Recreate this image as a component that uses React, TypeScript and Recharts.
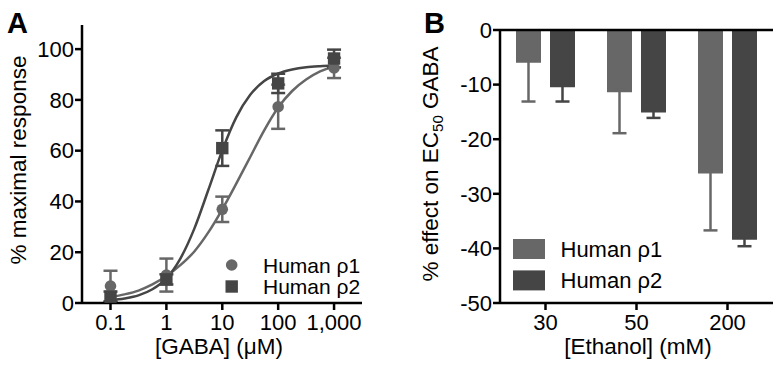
import React from 'react';
import {
  ComposedChart,
  BarChart,
  Bar,
  Line,
  Scatter,
  ErrorBar,
  XAxis,
  YAxis,
  ReferenceLine,
  Legend,
  Label,
} from 'recharts';

const FONT = '"Liberation Sans", Arial, Helvetica, sans-serif';
const C1 = '#676767';
const C2 = '#454545';

// ---------- Panel A data ----------
const seriesNames = ['Human ρ1', 'Human ρ2'];
const gabaLogConc = [-1, 0, 1, 2, 3];
const gabaTickLabels = ['0.1', '1', '10', '100', '1,000'];
const rho1Response = [6.7, 11.0, 36.9, 77.3, 92.6];
const rho1ResponseErr = [6.0, 6.5, 5.0, 8.7, 4.0];
const rho2Response = [2.5, 9.3, 61.0, 86.5, 96.3];
const rho2ResponseErr = [2.0, 2.0, 7.0, 3.8, 3.5];

const fitLogConc = [-1, -0.75, -0.5, -0.25, 0, 0.25, 0.5, 0.75, 1, 1.25, 1.5, 1.75, 2, 2.25, 2.5, 2.75, 3];
const rho1Fit = [2.3, 3.4, 4.9, 7.3, 10.6, 14.9, 20.3, 27.8, 36.9, 47.0, 57.5, 68.0, 77.0, 83.5, 88.0, 91.2, 93.2];
const rho2Fit = [1.1, 1.8, 3.0, 5.4, 9.7, 17.5, 29.3, 44.5, 60.1, 73.1, 82.0, 87.4, 90.4, 92.0, 92.9, 93.3, 93.5];

const responseTicks = [0, 20, 40, 60, 80, 100];

// ---------- Panel B data ----------
const ethanolConc = ['30', '50', '200'];
const rho1Effect = [-6.0, -11.4, -26.3];
const rho1EffectErr = [7.1, 7.5, 10.4];
const rho2Effect = [-10.5, -15.1, -38.4];
const rho2EffectErr = [2.6, 1.0, 1.2];
const effectTicks = [0, -10, -20, -30, -40, -50];
// upper arm of the one-sided error bars is kept hidden inside the bar
const hiddenUpperArm = 0.4;

// ---------- derived tables ----------
const rho1Points = gabaLogConc.map((x, i) => ({ x, y: rho1Response[i], e: rho1ResponseErr[i] }));
const rho2Points = gabaLogConc.map((x, i) => ({ x, y: rho2Response[i], e: rho2ResponseErr[i] }));
const rho1Curve = fitLogConc.map((x, i) => ({ x, y: rho1Fit[i] }));
const rho2Curve = fitLogConc.map((x, i) => ({ x, y: rho2Fit[i] }));
const ethanolData = ethanolConc.map((c, i) => ({
  c,
  r1: rho1Effect[i],
  r1e: [rho1EffectErr[i], hiddenUpperArm],
  r2: rho2Effect[i],
  r2e: [rho2EffectErr[i], hiddenUpperArm],
}));

const axisStroke = { stroke: '#000', strokeWidth: 2.5 };
const tickStyle = { fill: '#000', fontSize: 22, fontFamily: FONT };

const CircleShape = (p: any) => <circle cx={p.cx} cy={p.cy} r={5.8} fill={C1} />;
const SquareShape = (p: any) => <rect x={p.cx - 6.2} y={p.cy - 6.2} width={12.4} height={12.4} fill={C2} />;

const LegendA = () => (
  <svg width={160} height={46} style={{ display: 'block', overflow: 'visible' }}>
    <circle cx={16.7} cy={13} r={5.8} fill={C1} />
    <rect x={10.5} y={28.3} width={12.4} height={12.4} fill={C2} />
    <text x={48} y={13} dominantBaseline="central" fontSize={21} fontFamily={FONT} fill="#000">
      {seriesNames[0]}
    </text>
    <text x={48} y={34.5} dominantBaseline="central" fontSize={21} fontFamily={FONT} fill="#000">
      {seriesNames[1]}
    </text>
  </svg>
);

const LegendB = () => (
  <svg width={170} height={54} style={{ display: 'block', overflow: 'visible' }}>
    <rect x={0} y={0} width={32} height={20} fill={C1} />
    <rect x={0} y={31.4} width={32} height={20} fill={C2} />
    <text x={47.5} y={10} dominantBaseline="central" fontSize={22} fontFamily={FONT} fill="#000">
      {seriesNames[0]}
    </text>
    <text x={47.5} y={41.4} dominantBaseline="central" fontSize={22} fontFamily={FONT} fill="#000">
      {seriesNames[1]}
    </text>
  </svg>
);

export default function App() {
  return (
    <div
      style={{
        position: 'absolute',
        left: 0,
        top: 0,
        width: 781,
        height: 370,
        background: '#fff',
        fontFamily: FONT,
        overflow: 'hidden',
      }}
    >
      <div style={{ position: 'absolute', left: 0, top: 0 }}>
        <ComposedChart width={390} height={370} margin={{ top: 25, right: 28, bottom: 17, left: 22 }}>
          <XAxis
            type="number"
            dataKey="x"
            domain={[-1.51, 3.5]}
            allowDataOverflow
            ticks={gabaLogConc}
            interval={0}
            tickFormatter={(v: number) => gabaTickLabels[gabaLogConc.indexOf(v)] ?? ''}
            height={50}
            axisLine={axisStroke}
            tickLine={axisStroke}
            tickSize={7}
            tickMargin={4}
            tick={tickStyle}
          >
            <Label
              content={() => (
                <text x={219} y={354} textAnchor="middle" fontSize={22.5} fontFamily={FONT} fill="#000">
                  [GABA] (μM)
                </text>
              )}
            />
          </XAxis>
          <YAxis
            type="number"
            dataKey="y"
            domain={[0, 109.5]}
            allowDataOverflow
            ticks={responseTicks}
            interval={0}
            width={60}
            axisLine={axisStroke}
            tickLine={axisStroke}
            tickSize={7}
            tickMargin={1}
            tick={tickStyle}
          >
            <Label
              content={() => (
                <text
                  x={26}
                  y={160}
                  transform="rotate(-90 26 160)"
                  textAnchor="middle"
                  fontSize={22.5}
                  fontFamily={FONT}
                  fill="#000"
                >
                  % maximal response
                </text>
              )}
            />
          </YAxis>
          <Line
            data={rho1Curve}
            dataKey="y"
            type="monotone"
            stroke={C1}
            strokeWidth={2.5}
            dot={false}
            activeDot={false}
            isAnimationActive={false}
            legendType="none"
          />
          <Line
            data={rho2Curve}
            dataKey="y"
            type="monotone"
            stroke={C2}
            strokeWidth={2.5}
            dot={false}
            activeDot={false}
            isAnimationActive={false}
            legendType="none"
          />
          <Scatter name={seriesNames[0]} data={rho1Points} dataKey="y" shape={CircleShape} isAnimationActive={false}>
            <ErrorBar dataKey="e" direction="y" width={7} stroke={C1} strokeWidth={2.5} />
          </Scatter>
          <Scatter name={seriesNames[1]} data={rho2Points} dataKey="y" shape={SquareShape} isAnimationActive={false}>
            <ErrorBar dataKey="e" direction="y" width={7} stroke={C2} strokeWidth={2.5} />
          </Scatter>
          <Legend
            layout="vertical"
            align="center"
            verticalAlign="middle"
            content={() => <LegendA />}
            wrapperStyle={{ left: 215, top: 252, width: 160, height: 46 }}
          />
        </ComposedChart>
      </div>

      <div style={{ position: 'absolute', left: 390, top: 0 }}>
        <BarChart
          width={391}
          height={370}
          data={ethanolData}
          margin={{ top: 30, right: 8, bottom: 17, left: 50 }}
          barSize={25}
          barGap={9}
        >
          <XAxis
            dataKey="c"
            height={50}
            axisLine={axisStroke}
            tickLine={axisStroke}
            tickSize={7}
            tickMargin={4}
            tick={tickStyle}
            interval={0}
          >
            <Label
              content={() => (
                <text x={248} y={354} textAnchor="middle" fontSize={22.5} fontFamily={FONT} fill="#000">
                  [Ethanol] (mM)
                </text>
              )}
            />
          </XAxis>
          <YAxis
            type="number"
            domain={[-50, 0]}
            ticks={effectTicks}
            interval={0}
            width={60}
            axisLine={axisStroke}
            tickLine={axisStroke}
            tickSize={7}
            tickMargin={1}
            tick={tickStyle}
          >
            <Label
              content={() => (
                <text
                  x={48}
                  y={164}
                  transform="rotate(-90 48 164)"
                  textAnchor="middle"
                  fontSize={22.5}
                  fontFamily={FONT}
                  fill="#000"
                >
                  % effect on EC
                  <tspan fontSize={15} dy={5}>
                    50
                  </tspan>
                  <tspan dy={-5}> GABA</tspan>
                </text>
              )}
            />
          </YAxis>
          <ReferenceLine y={0} stroke="#000" strokeWidth={2.5} />
          <Bar name={seriesNames[0]} dataKey="r1" fill={C1} isAnimationActive={false}>
            <ErrorBar dataKey="r1e" direction="y" width={7} stroke={C1} strokeWidth={2.5} />
          </Bar>
          <Bar name={seriesNames[1]} dataKey="r2" fill={C2} isAnimationActive={false}>
            <ErrorBar dataKey="r2e" direction="y" width={7} stroke={C2} strokeWidth={2.5} />
          </Bar>
          <Legend
            layout="vertical"
            align="center"
            verticalAlign="middle"
            content={() => <LegendB />}
            wrapperStyle={{ left: 122.7, top: 239.3, width: 170, height: 54 }}
          />
        </BarChart>
      </div>

      <svg
        width={781}
        height={370}
        style={{ position: 'absolute', left: 0, top: 0, pointerEvents: 'none' }}
      >
        <text x={7} y={33} fontSize={29} fontWeight="bold" fontFamily={FONT} fill="#000">
          A
        </text>
        <text x={424} y={33} fontSize={29} fontWeight="bold" fontFamily={FONT} fill="#000">
          B
        </text>
      </svg>
    </div>
  );
}
